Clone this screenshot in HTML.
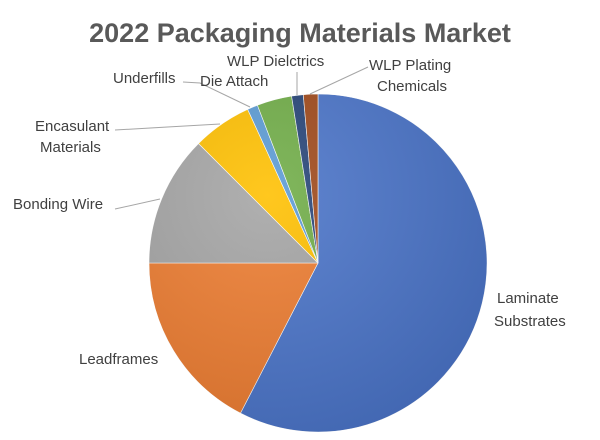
<!DOCTYPE html>
<html><head><style>
html,body{margin:0;padding:0;background:#fff;}
svg{display:block;}
text{font-family:"Liberation Sans",sans-serif;fill:#404040;font-size:15px;}
</style></head><body>
<svg width="600" height="440" viewBox="0 0 600 440">
<defs>
<radialGradient id="g" cx="35%" cy="30%" r="80%">
<stop offset="0" stop-color="#fff" stop-opacity="0.12"/>
<stop offset="1" stop-color="#000" stop-opacity="0.12"/>
</radialGradient>
</defs>
<rect width="600" height="440" fill="#fff"/>
<text x="300" y="42" text-anchor="middle" style="font-size:27px;font-weight:bold;fill:#595959">2022 Packaging Materials Market</text>
<g stroke="#fff" stroke-width="0.6">
<path d="M318,263 L318,94 A169,169 0 1 1 240.48,413.17 Z" fill="#4a74c9"/>
<path d="M318,263 L240.48,413.17 A169,169 0 0 1 149,263 Z" fill="#ee7d31"/>
<path d="M318,263 L149,263 A169,169 0 0 1 198.5,143.5 Z" fill="#a5a5a5"/>
<path d="M318,263 L198.5,143.5 A169,169 0 0 1 247.65,109.35 Z" fill="#ffc000"/>
<path d="M318,263 L247.65,109.35 A169,169 0 0 1 257.43,105.22 Z" fill="#5b9bd5"/>
<path d="M318,263 L257.43,105.22 A169,169 0 0 1 291.56,96.08 Z" fill="#70ad47"/>
<path d="M318,263 L291.56,96.08 A169,169 0 0 1 303.27,94.64 Z" fill="#264478"/>
<path d="M318,263 L303.27,94.64 A169,169 0 0 1 318,94 Z" fill="#a0491a"/>
</g>
<circle cx="318" cy="263" r="169" fill="url(#g)"/>
<g stroke="#a6a6a6" stroke-width="1" fill="none">
<polyline points="115,209 160,199"/>
<polyline points="115,130 220,124"/>
<polyline points="183,82 200,83 250,107"/>
<polyline points="297,72 297,95"/>
<polyline points="368,67 310,94"/>
</g>
<text x="13" y="209">Bonding Wire</text>
<text x="35" y="131">Encasulant</text>
<text x="40" y="152">Materials</text>
<text x="113" y="83">Underfills</text>
<text x="200" y="86">Die Attach</text>
<text x="227" y="66">WLP Dielctrics</text>
<text x="369" y="70">WLP Plating</text>
<text x="377" y="91">Chemicals</text>
<text x="497" y="303">Laminate</text>
<text x="494" y="326">Substrates</text>
<text x="79" y="364">Leadframes</text>
</svg>
</body></html>
